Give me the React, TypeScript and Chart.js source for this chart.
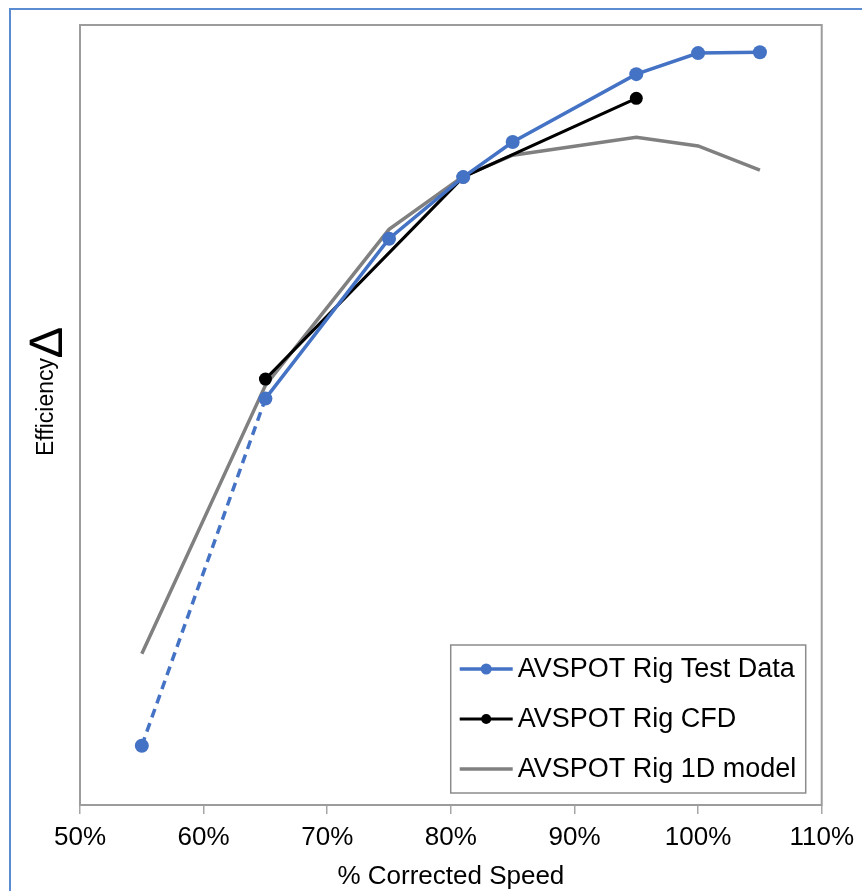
import React, { useEffect, useRef } from 'react';
import { Chart, registerables } from 'chart.js';
Chart.register(...registerables);

// ---- data ----
const testSpeeds = [55, 65, 75, 81, 85, 95, 100, 105];
const testData = [7.6, 52.1, 72.6, 80.5, 85.0, 93.7, 96.4, 96.5];
const cfdSpeeds = [65, 81, 95];
const cfdData = [54.6, 80.5, 90.6];
const modelSpeeds = [55, 65, 75, 81, 85, 95, 100, 105];
const modelData = [19.4, 53.8, 73.8, 80.6, 83.3, 85.6, 84.5, 81.4];
const xTicks = [50, 60, 70, 80, 90, 100, 110];
const seriesLabels = ['AVSPOT Rig Test Data', 'AVSPOT Rig CFD', 'AVSPOT Rig 1D model'];
const xTitle = '% Corrected Speed';
const yTitle = 'Efficiency';
const yTitleSymbol = '\u2206';

const FONT = '"Liberation Sans", Arial, sans-serif';
const BLUE = '#4472c4';
const GRAY = '#808080';

const toPoints = (xs: number[], ys: number[]) => xs.map((x, i) => ({ x, y: ys[i] }));

const framePlugin = {
  id: 'frame',
  beforeDatasetsDraw(chart: any) {
    const { ctx, chartArea: a } = chart;
    ctx.save();
    ctx.strokeStyle = '#9c9c9c';
    ctx.lineWidth = 2;
    ctx.strokeRect(a.left, a.top, a.right - a.left, a.bottom - a.top);
    ctx.restore();
  },
};

const yTitlePlugin = {
  id: 'yTitle',
  afterDraw(chart: any) {
    const ctx = chart.ctx;
    ctx.save();
    ctx.translate(53, 456);
    ctx.rotate(-Math.PI / 2);
    ctx.fillStyle = '#000';
    ctx.textBaseline = 'alphabetic';
    ctx.textAlign = 'left';
    ctx.font = `23px ${FONT}`;
    ctx.fillText(yTitle, 0, 0);
    const w = ctx.measureText(yTitle).width;
    ctx.font = `47px ${FONT}`;
    ctx.fillText(yTitleSymbol, w + 1, 9);
    ctx.restore();
  },
};

const boxLegendPlugin = {
  id: 'boxLegend',
  afterDraw(chart: any) {
    const { ctx, chartArea: a } = chart;
    const right = a.right - 16;
    const bottom = a.bottom - 12;
    const w = 355;
    const h = 148;
    const left = right - w;
    const top = bottom - h;
    ctx.save();
    ctx.fillStyle = '#fff';
    ctx.fillRect(left, top, w, h);
    ctx.strokeStyle = '#8c8c8c';
    ctx.lineWidth = 1.5;
    ctx.strokeRect(left, top, w, h);
    chart.data.datasets.forEach((ds: any, i: number) => {
      const cy = top + 24 + i * 50;
      const x0 = left + 9;
      const x1 = left + 62;
      ctx.beginPath();
      ctx.strokeStyle = ds.borderColor;
      ctx.lineWidth = ds.borderWidth;
      ctx.lineCap = 'butt';
      ctx.moveTo(x0, cy);
      ctx.lineTo(x1, cy);
      ctx.stroke();
      if (ds.pointRadius > 0) {
        ctx.beginPath();
        ctx.fillStyle = ds.pointBackgroundColor;
        ctx.arc((x0 + x1) / 2, cy, ds.pointRadius - 1.5, 0, Math.PI * 2);
        ctx.fill();
      }
      ctx.fillStyle = '#000';
      ctx.font = `27px ${FONT}`;
      ctx.textBaseline = 'middle';
      ctx.textAlign = 'left';
      ctx.fillText(ds.label, left + 67, cy + 1);
    });
    ctx.restore();
  },
};

export default function App() {
  const ref = useRef<HTMLCanvasElement | null>(null);

  useEffect(() => {
    if (!ref.current) return;
    const chart = new Chart(ref.current, {
      type: 'line',
      data: {
        datasets: [
          {
            label: seriesLabels[0],
            data: toPoints(testSpeeds, testData),
            borderColor: BLUE,
            backgroundColor: BLUE,
            pointBackgroundColor: BLUE,
            pointBorderColor: BLUE,
            borderWidth: 3.5,
            pointRadius: 7,
            pointBorderWidth: 0,
            tension: 0,
            segment: {
              borderDash: (ctx: any) => (ctx.p0DataIndex === 0 ? [9, 6] : undefined),
            },
          } as any,
          {
            label: seriesLabels[1],
            data: toPoints(cfdSpeeds, cfdData),
            borderColor: '#000',
            backgroundColor: '#000',
            pointBackgroundColor: '#000',
            pointBorderColor: '#000',
            borderWidth: 3,
            pointRadius: 6.5,
            pointBorderWidth: 0,
            tension: 0,
          },
          {
            label: seriesLabels[2],
            data: toPoints(modelSpeeds, modelData),
            borderColor: GRAY,
            backgroundColor: GRAY,
            borderWidth: 3.5,
            pointRadius: 0,
            tension: 0,
          },
        ],
      },
      options: {
        responsive: false,
        animation: false,
        devicePixelRatio: 1,
        layout: { padding: { top: 25, right: 39, left: 0, bottom: 0 } },
        plugins: {
          legend: { display: false },
          tooltip: { enabled: false },
        },
        scales: {
          x: {
            type: 'linear',
            min: 50,
            max: 110,
            afterBuildTicks: (s: any) => {
              s.ticks = xTicks.map((v) => ({ value: v }));
            },
            afterFit: (s: any) => {
              s.height = 86;
            },
            grid: {
              drawOnChartArea: false,
              drawTicks: true,
              tickLength: 9,
              color: '#a6a6a6',
              lineWidth: 1.5,
            },
            border: { display: false },
            ticks: {
              color: '#000',
              padding: 8,
              maxRotation: 0,
              font: { family: FONT, size: 26 },
              callback: (v: any) => `${v}%`,
            },
            title: {
              display: true,
              text: xTitle,
              color: '#000',
              padding: { top: 0, bottom: 0 },
              font: { family: FONT, size: 26, lineHeight: 1.1 },
            },
          },
          y: {
            type: 'linear',
            min: 0,
            max: 100,
            afterFit: (s: any) => {
              s.width = 80;
            },
            grid: { display: false },
            border: { display: false },
            ticks: { display: false },
          },
        },
      } as any,
      plugins: [framePlugin, yTitlePlugin, boxLegendPlugin],
    });
    return () => chart.destroy();
  }, []);

  return (
    <div style={{ position: 'fixed', left: 0, top: 0, width: 862, height: 891, background: '#fff', overflow: 'hidden' }}>
      <div
        style={{
          position: 'absolute',
          left: 9,
          top: 8,
          right: 0,
          bottom: 0,
          borderLeft: '2px solid #5b8bd0',
          borderTop: '2px solid #5b8bd0',
        }}
      />
      <canvas ref={ref} width={862} height={891} style={{ position: 'absolute', left: 0, top: 0 }} />
    </div>
  );
}
